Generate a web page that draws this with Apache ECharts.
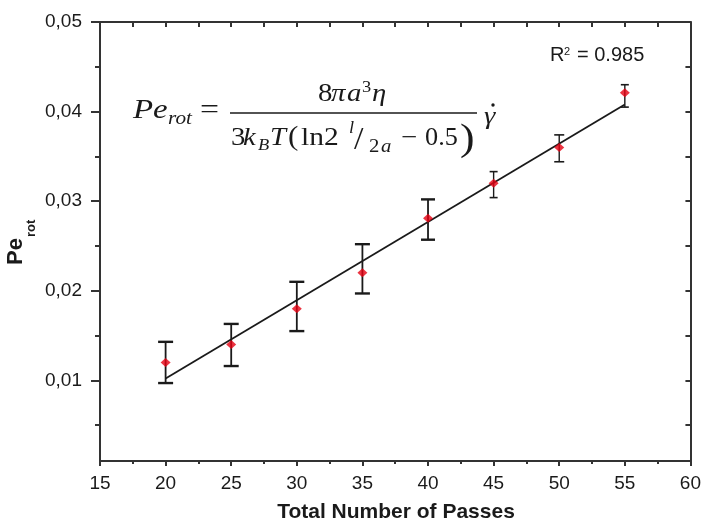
<!DOCTYPE html>
<html><head><meta charset="utf-8">
<script src="https://cdn.jsdelivr.net/npm/echarts@6/dist/echarts.min.js"></script>
<style>html,body{margin:0;padding:0;background:#fff}#c{width:704px;height:527px}</style>
</head><body><div id="c"></div>
<script>
// ---- data ----
const passes  = [20, 25, 30, 35, 40, 45, 50, 55];
const peRot   = [0.0120, 0.0140, 0.0180, 0.0220, 0.0281, 0.0320, 0.0360, 0.0421];
const errLow  = [0.0097, 0.0116, 0.0155, 0.0197, 0.0257, 0.0304, 0.0344, 0.0405];
const errHigh = [0.0143, 0.0163, 0.0210, 0.0252, 0.0302, 0.0333, 0.0374, 0.0430];
const fitX = [20, 55];
const fitY = [0.0102, 0.0408];
const yMajorTicks = [0.01, 0.02, 0.03, 0.04, 0.05];
const yMinorTicks = [0.005, 0.015, 0.025, 0.035, 0.045];
const xTitle = 'Total Number of Passes';
const r2Text = '0.985';

// ---- styling ----
const capWidths = [15, 15, 15, 15, 14, 8, 10, 8];
const INK = '#1a1a1a';
const AX = '#333';
const SANS = '"Liberation Sans", Arial, sans-serif';
const SERIF = '"Liberation Serif", "Times New Roman", serif';

const chart = echarts.init(document.getElementById('c'));

function T(text, x, base, size, opts) {
  opts = opts || {};
  const sx = opts.sx != null ? opts.sx : (opts.family ? 1 : 1.15);
  return {
    type: 'text', x: x, y: base - 0.32 * size, z: 10, scaleX: sx,
    style: {
      text: text, fontSize: size, fontFamily: opts.family || SERIF,
      fontStyle: opts.italic ? 'italic' : 'normal',
      fontWeight: opts.bold ? 'bold' : 'normal',
      fill: INK, align: opts.align || 'left', verticalAlign: 'middle'
    }
  };
}

const S = 25, s2 = 16;
const formula = [
  T('Pe', 133, 120, 27, {italic: true, sx: 1.22}),
  T('rot', 168, 125, 18, {italic: true, sx: 1.18}),
  T('=', 200, 120, 27, {sx: 1.25}),
  {type: 'line', z: 10, shape: {x1: 230, y1: 113, x2: 477, y2: 113}, style: {stroke: INK, lineWidth: 1.6}},
  T('8', 318, 102, S),
  T('π', 331, 102, S, {italic: true}),
  T('a', 347, 102, S, {italic: true}),
  T('3', 362, 93, s2),
  T('η', 372, 102, S, {italic: true}),
  T('3', 231, 146, S),
  T('k', 243, 146, S, {italic: true}),
  T('B', 258, 151, s2, {italic: true}),
  T('T', 270, 146, S, {italic: true}),
  T('(', 288, 147, 27),
  T('ln2', 301, 146, S, {sx: 1.18}),
  T('l', 349, 134, s2, {italic: true}),
  T('/', 354, 151, 31, {sx: 1.1}),
  T('2', 369, 153, 18),
  T('a', 381, 153, 18, {italic: true}),
  T('−', 401, 146, S),
  T('0.5', 425, 146, S, {sx: 1.05}),
  T(')', 460, 152, 38),
  T('γ', 484, 125, S, {italic: true}),
  {type: 'circle', z: 10, shape: {cx: 493, cy: 105, r: 1.7}, style: {fill: INK}}
];

const texts = [
  T('R', 550, 62, 20, {family: SANS}),
  T('2', 564, 55, 11, {family: SANS}),
  T('= ' + r2Text, 577, 62, 20, {family: SANS}),
  T(xTitle, 396, 519, 21, {family: SANS, bold: true, align: 'center'}),
  {type: 'text', x: 27, y: 265, rotation: Math.PI / 2, z: 10,
   style: {text: 'Pe', fontSize: 22, fontWeight: 'bold', fontFamily: SANS, fill: INK, align: 'left', verticalAlign: 'bottom'}},
  {type: 'text', x: 38, y: 237, rotation: Math.PI / 2, z: 10,
   style: {text: 'rot', fontSize: 13, fontWeight: 'bold', fontFamily: SANS, fill: INK, align: 'left', verticalAlign: 'bottom'}}
];

const errData = passes.map((p, i) => [p, errLow[i], errHigh[i]]);

chart.setOption({
  animation: false,
  backgroundColor: '#fff',
  grid: {left: 100, right: 12, top: 22, bottom: 66, containLabel: false},
  xAxis: [
    {type: 'value', position: 'bottom', min: 15, max: 60, interval: 5,
     axisLine: {show: true, onZero: false, lineStyle: {color: AX, width: 2}},
     axisTick: {show: true, inside: false, length: 5, lineStyle: {color: AX, width: 2}},
     minorTick: {show: true, splitNumber: 2, length: 3, lineStyle: {color: AX, width: 2}},
     axisLabel: {fontSize: 19, color: INK, fontFamily: SANS, margin: 13},
     splitLine: {show: false}, minorSplitLine: {show: false}},
    {type: 'value', position: 'top', min: 15, max: 60, interval: 2.5,
     axisLine: {show: true, onZero: false, lineStyle: {color: AX, width: 2}},
     axisTick: {show: true, inside: true, length: 5, lineStyle: {color: AX, width: 2}},
     axisLabel: {show: false}, splitLine: {show: false}}
  ],
  yAxis: [
    {type: 'value', position: 'left', min: 0.001, max: 0.05,
     axisLine: {show: true, onZero: false, lineStyle: {color: AX, width: 2}},
     axisTick: {show: true, inside: false, length: 9, customValues: yMajorTicks, lineStyle: {color: AX, width: 2}},
     axisLabel: {customValues: yMajorTicks, fontSize: 19, color: INK, fontFamily: SANS, margin: 18,
                 formatter: v => v.toFixed(2).replace('.', ',')},
     splitLine: {show: false}},
    {type: 'value', position: 'left', min: 0.001, max: 0.05,
     axisLine: {show: false},
     axisTick: {show: true, inside: false, length: 5, customValues: yMinorTicks, lineStyle: {color: AX, width: 2}},
     axisLabel: {show: false}, splitLine: {show: false}},
    {type: 'value', position: 'right', min: 0.001, max: 0.05,
     axisLine: {show: true, onZero: false, lineStyle: {color: AX, width: 2}},
     axisTick: {show: true, inside: true, length: 5, customValues: yMajorTicks.concat(yMinorTicks), lineStyle: {color: AX, width: 2}},
     axisLabel: {show: false}, splitLine: {show: false}}
  ],
  series: [
    {type: 'custom', xAxisIndex: 0, yAxisIndex: 0, z: 3, data: errData,
     renderItem: (params, api) => {
       const x = api.value(0), lo = api.value(1), hi = api.value(2);
       const a = api.coord([x, lo]), b = api.coord([x, hi]);
       const w = capWidths[params.dataIndex] / 2;
       const lw = params.dataIndex >= 5 ? 1.6 : 2.4;
       const vw = params.dataIndex >= 5 ? 1.4 : 1.8;
       return {type: 'group', children: [
         {type: 'line', shape: {x1: a[0], y1: a[1], x2: b[0], y2: b[1]}, style: {stroke: INK, lineWidth: vw}},
         {type: 'line', shape: {x1: a[0] - w, y1: a[1], x2: a[0] + w, y2: a[1]}, style: {stroke: INK, lineWidth: lw}},
         {type: 'line', shape: {x1: b[0] - w, y1: b[1], x2: b[0] + w, y2: b[1]}, style: {stroke: INK, lineWidth: lw}}
       ]};
     }},
    {type: 'line', xAxisIndex: 0, yAxisIndex: 0, z: 4, data: fitX.map((x, i) => [x, fitY[i]]),
     showSymbol: false, symbol: 'none', lineStyle: {color: INK, width: 1.8}},
    {type: 'scatter', xAxisIndex: 0, yAxisIndex: 0, z: 5, data: passes.map((p, i) => [p, peRot[i]]),
     symbol: 'diamond', symbolSize: [10, 9], itemStyle: {color: '#e60012'}}
  ],
  graphic: formula.concat(texts)
});
</script></body></html>
